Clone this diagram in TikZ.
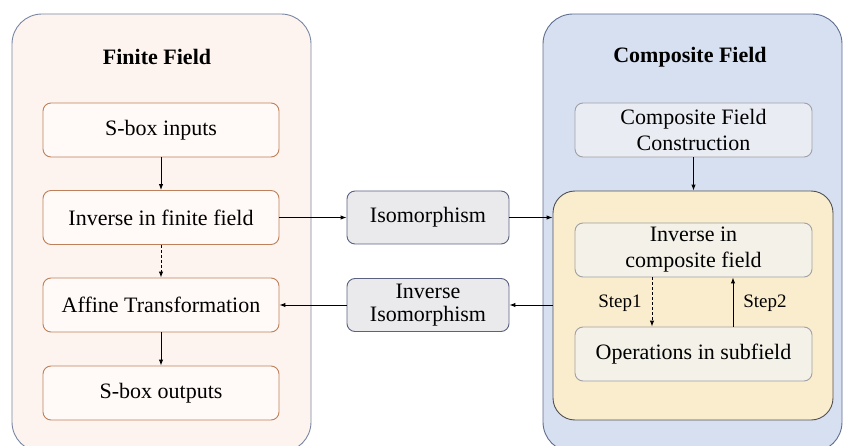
\documentclass[tikz,border=0pt]{standalone}
\usepackage{fontspec}
\setmainfont{Liberation Serif}
\usetikzlibrary{arrows.meta}
\begin{document}
\begin{tikzpicture}[x=1pt,y=-1pt,line width=1pt]
\definecolor{ffback}{RGB}{253,244,239}
\definecolor{ffedge}{RGB}{120,134,164}
\definecolor{ffbox}{RGB}{255,250,247}
\definecolor{ffline}{RGB}{190,128,90}
\definecolor{isofill}{RGB}{234,234,237}
\definecolor{isoline}{RGB}{90,98,128}
\definecolor{cfback}{RGB}{215,224,241}
\definecolor{cfedge}{RGB}{95,110,145}
\definecolor{cfbox}{RGB}{233,236,242}
\definecolor{cfline}{RGB}{160,160,165}
\definecolor{yback}{RGB}{250,237,205}
\definecolor{yline}{RGB}{80,80,85}
\definecolor{subfill}{RGB}{243,241,232}
\providecommand{\fbig}{\fontsize{22}{26}\selectfont}
\tikzset{region/.style={rounded corners=30pt,line width=0.9pt},stagebox/.style={rounded corners=8pt,inner sep=0pt,minimum height=54pt,align=center,font=\fbig,line width=0.9pt},ffstage/.style={stagebox,draw=ffline,fill=ffbox,minimum width=236pt},isostage/.style={stagebox,draw=isoline,fill=isofill,minimum width=162pt,minimum height=53pt},cfstage/.style={stagebox,draw=cfline,fill=cfbox,minimum width=237pt},substage/.style={stagebox,draw=cfline,fill=subfill,minimum width=237pt},flow/.style={-{Latex[length=6pt,width=4.5pt]},draw=black,line width=1pt}}
\clip (0,0) rectangle (843,446);
\draw[region,draw=ffedge,fill=ffback] (12,14) rectangle (311,452);
\draw[region,draw=cfedge,fill=cfback] (543,14) rectangle (842,452);
\node[font=\fbig\bfseries] (fftitle) at (157,57) {Finite Field};
\node[font=\fbig\bfseries] (cftitle) at (690,57) {Composite Field};
\node[ffstage] (sin) at (161,130) {S-box inputs};
\node[ffstage] (finv) at (161,217.5) {Inverse in finite field};
\node[ffstage] (affine) at (161,305) {Affine Transformation};
\node[ffstage] (sout) at (161,393) {S-box outputs};
\node[isostage] (iso) at (428,217.5) {Isomorphism};
\node[isostage] (inviso) at (428,305) {Inverse\\[-3pt]Isomorphism};
\node[cfstage] (cfcon) at (693.5,130) {Composite Field\\Construction};
\node[draw=yline,fill=yback,rounded corners=22pt,line width=0.9pt,minimum width=280pt,minimum height=229pt,inner sep=0pt] (inner) at (693,305.5) {};
\node[substage] (cinv) at (693.5,250) {Inverse in\\composite field};
\node[substage] (subop) at (693.5,354) {Operations in subfield};
\node[font=\fontsize{19}{22}\selectfont] (step1) at (620,303) {Step1};
\node[font=\fontsize{19}{22}\selectfont] (step2) at (765,303) {Step2};
\draw[flow] (sin) -- (finv);
\draw[flow,dash pattern=on 3pt off 2pt] (finv) -- (affine);
\draw[flow] (affine) -- (sout);
\draw[flow] (finv) -- (iso);
\draw[flow] (iso.east) -- (iso.east -| inner.west);
\draw[flow] (inviso.east -| inner.west) -- (inviso.east);
\draw[flow] (inviso) -- (affine);
\draw[flow] (cfcon) -- (cfcon.south |- inner.north);
\draw[flow,dash pattern=on 3pt off 2pt] ([xshift=-41.5pt]cinv.south) -- ([xshift=-41.5pt]subop.north);
\draw[flow] ([xshift=39.5pt]subop.north) -- ([xshift=39.5pt]cinv.south);
\end{tikzpicture}
\end{document}
